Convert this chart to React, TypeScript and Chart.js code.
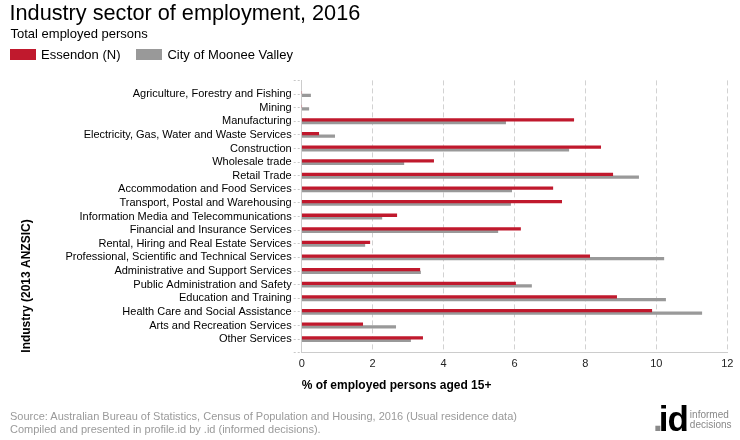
import React, { useEffect, useRef } from 'react';
import { Chart, registerables } from 'chart.js';

Chart.register(...registerables);

const categories = [
  'Agriculture, Forestry and Fishing',
  'Mining',
  'Manufacturing',
  'Electricity, Gas, Water and Waste Services',
  'Construction',
  'Wholesale trade',
  'Retail Trade',
  'Accommodation and Food Services',
  'Transport, Postal and Warehousing',
  'Information Media and Telecommunications',
  'Financial and Insurance Services',
  'Rental, Hiring and Real Estate Services',
  'Professional, Scientific and Technical Services',
  'Administrative and Support Services',
  'Public Administration and Safety',
  'Education and Training',
  'Health Care and Social Assistance',
  'Arts and Recreation Services',
  'Other Services',
];

const essendon = [0, 0, 7.67, 0.48, 8.43, 3.72, 8.77, 7.08, 7.33, 2.68, 6.17, 1.92, 8.12, 3.33, 6.03, 8.88, 9.87, 1.72, 3.41];
const mooneeValley = [0.25, 0.2, 5.75, 0.93, 7.53, 2.88, 9.5, 5.92, 5.89, 2.26, 5.53, 1.78, 10.21, 3.35, 6.48, 10.26, 11.28, 2.65, 3.07];

const seriesNames = ['Essendon (N)', 'City of Moonee Valley'];
const seriesColors = ['#C0192D', '#999999'];

const xTickValues = [0, 2, 4, 6, 8, 10, 12];

const titleText = 'Industry sector of employment, 2016';
const subtitleText = 'Total employed persons';
const xTitle = '% of employed persons aged 15+';
const yTitle = 'Industry (2013 ANZSIC)';
const footerLines = [
  'Source: Australian Bureau of Statistics, Census of Population and Housing, 2016 (Usual residence data)',
  'Compiled and presented in profile.id by .id (informed decisions).',
];

const FONT = '"Liberation Sans", Arial, Helvetica, sans-serif';

export default function App() {
  const canvasRef = useRef<HTMLCanvasElement | null>(null);

  useEffect(() => {
    const canvas = canvasRef.current;
    if (!canvas) return;
    const N = categories.length;
    const pos = categories.map((_, i) => N - i);
    const series = [essendon, mooneeValley];

    const chart = new Chart(canvas, {
      type: 'bar',
      data: {
        datasets: series.map((vals, s) => ({
          label: seriesNames[s],
          data: vals.map((v, i) => ({ x: v, y: pos[i] })),
          backgroundColor: seriesColors[s],
          borderWidth: 0,
          barThickness: 2.6,
        })),
      },
      options: {
        indexAxis: 'y',
        animation: false,
        responsive: false,
        maintainAspectRatio: false,
        layout: { padding: { left: 10, top: 80.4, right: 12.7, bottom: 47 } },
        plugins: {
          legend: { display: false },
          title: { display: false },
          tooltip: { enabled: false },
        },
        scales: {
          x: {
            type: 'linear',
            position: 'bottom',
            offset: false,
            min: xTickValues[0],
            max: xTickValues[xTickValues.length - 1],
            afterBuildTicks: (scale: any) => {
              scale.ticks = xTickValues.map((v) => ({ value: v }));
            },
            ticks: {
              stepSize: 2,
              color: '#222',
              padding: 5,
              font: { family: FONT, size: 11 },
            },
            grid: {
              color: '#d2d2d2',
              lineWidth: 1,
              drawTicks: false,
              offset: false,
            },
            border: { display: true, color: '#cccccc', dash: [5, 3] },
            title: {
              display: true,
              text: xTitle,
              align: 'start',
              color: '#000',
              font: { family: FONT, size: 12, weight: 'bold' },
              padding: { top: 0, bottom: 0 },
            },
            afterFit: (scale: any) => {
              scale.height = 40.3;
            },
          },
          y: {
            type: 'linear',
            position: 'left',
            offset: false,
            min: 0,
            max: N + 1,
            ticks: {
              stepSize: 1,
              autoSkip: false,
              color: '#000',
              padding: 2,
              font: { family: FONT, size: 11 },
              callback: (v: any) => {
                const idx = N - Number(v);
                return idx >= 0 && idx < N ? categories[idx] : '';
              },
            },
            grid: {
              offset: false,
              drawOnChartArea: false,
              drawTicks: true,
              tickLength: 8,
              tickColor: '#c8c8c8',
              tickBorderDash: [2, 2],
            },
            border: { display: true, color: '#cccccc' },
            title: {
              display: true,
              text: yTitle,
              align: 'start',
              color: '#000',
              font: { family: FONT, size: 12, weight: 'bold' },
              padding: { top: 9, bottom: 0 },
            },
            afterFit: (scale: any) => {
              scale.width = 291.7;
            },
          },
        },
      },
    } as any);

    return () => {
      chart.destroy();
    };
  }, []);

  return (
    <div
      style={{
        position: 'fixed',
        left: 0,
        top: 0,
        width: 740,
        height: 440,
        background: '#fff',
        fontFamily: FONT,
        overflow: 'hidden',
      }}
    >
      <canvas ref={canvasRef} width={740} height={440} style={{ position: 'absolute', left: 0, top: 0, width: 740, height: 440 }} />
      <div style={{ position: 'absolute', left: 9.5, top: 2.3, fontSize: 21.7, lineHeight: '21.7px', color: '#000', whiteSpace: 'nowrap' }}>
        {titleText}
      </div>
      <div style={{ position: 'absolute', left: 10.5, top: 26.7, fontSize: 13, lineHeight: '13px', color: '#000', whiteSpace: 'nowrap' }}>
        {subtitleText}
      </div>
      <div style={{ position: 'absolute', left: 10, top: 48.3, display: 'flex', alignItems: 'flex-start', whiteSpace: 'nowrap' }}>
        {seriesNames.map((name, i) => (
          <div key={name} style={{ display: 'flex', alignItems: 'flex-start', marginRight: 16 }}>
            <div style={{ width: 26, height: 11, marginTop: 0.7, background: seriesColors[i] }} />
            <div style={{ marginLeft: 5, fontSize: 13, lineHeight: '13px', color: '#000' }}>{name}</div>
          </div>
        ))}
      </div>
      {footerLines.map((line, i) => (
        <div
          key={i}
          style={{ position: 'absolute', left: 10, top: 410.5 + i * 13.6, fontSize: 11, lineHeight: '11px', color: '#9a9a9a', whiteSpace: 'nowrap' }}
        >
          {line}
        </div>
      ))}
      <div style={{ position: 'absolute', left: 653, top: 400.5, display: 'flex', alignItems: 'flex-start', whiteSpace: 'nowrap' }}>
        <div style={{ fontSize: 35, lineHeight: '35px', fontWeight: 'bold', color: '#000' }}>
          <span style={{ color: '#8a8a8a', marginRight: -4 }}>.</span>
          <span style={{ letterSpacing: -1 }}>id</span>
        </div>
        <div style={{ marginLeft: 2, marginTop: 9, fontSize: 10, lineHeight: '10px', color: '#888' }}>
          <div>informed</div>
          <div>decisions</div>
        </div>
      </div>
    </div>
  );
}
